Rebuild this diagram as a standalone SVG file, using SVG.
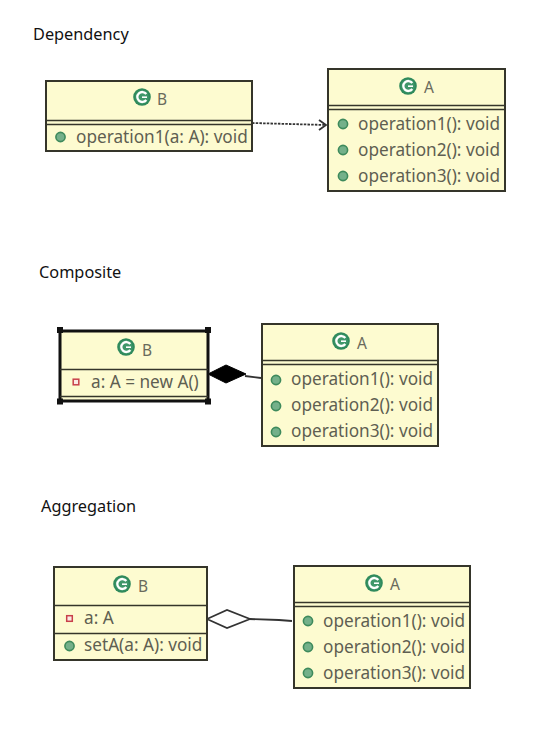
<svg xmlns="http://www.w3.org/2000/svg" width="546" height="732" viewBox="0 0 546 732">
<defs>
<style>
.box{fill:#fdfbd0;stroke:#35352a;stroke-width:2}
.sep{stroke:#35352a;stroke-width:1.7;fill:none}
.t{font-family:"Noto Sans","DejaVu Sans",sans-serif;font-size:17.2px;fill:#5f5f52}
.n{font-family:"Noto Sans","DejaVu Sans",sans-serif;font-size:15.500px;fill:#6a6a5c}
.cap{font-family:"Noto Sans","Liberation Sans",sans-serif;font-size:16.300px;fill:#111}
.pub{fill:#74b08a;stroke:#3e8a5c;stroke-width:1.6}
.priv{fill:#fbe9e4;stroke:#c8404a;stroke-width:1.5}
.line{fill:none;stroke:#333;stroke-width:1.8}
.h{fill:#111}
</style>
<g id="cls">
<circle cx="0" cy="0" r="8.800" fill="#2f8a5c"/>
<circle cx="0" cy="0" r="6.800" fill="#5fae85" opacity="0.350"/>
<path d="M4.300 -3 A5 5 0 1 0 4.300 3" fill="none" stroke="#fff" stroke-width="2.300"/>
<path d="M0 0.200H5" fill="none" stroke="#fff" stroke-width="1.600"/>
</g>
<circle id="pub" class="pub" r="4.600"/>
<rect id="priv" class="priv" x="-2.800" y="-2.800" width="5.600" height="5.600"/>
</defs>

<text class="cap" x="33" y="40">Dependency</text>
<text class="cap" x="39" y="278">Composite</text>
<text class="cap" x="41" y="512">Aggregation</text>

<g id="connectors">
<path d="M252 123 L326 125" class="line" stroke-dasharray="2.500 1.200"/>
<path d="M319 120 L326 125 L319 130" class="line"/>
<path d="M208 374 L226 365 L246 374 L226 383 Z" fill="#000" stroke="#000"/>
<path d="M245 376 L261 378" class="line"/>
<path d="M207 619 L227 610 L250 619 L227 628 Z" fill="#fff" stroke="#333" stroke-width="1.700"/>
<path d="M249 619 L279 620 L292 621" class="line"/>
</g>

<g id="dep-b">
<rect class="box" x="46" y="81" width="206" height="70"/>
<path class="sep" d="M46 120.500H252M46 124.500H252"/>
<use href="#cls" x="142" y="97"/>
<text class="n" x="157" y="105">B</text>
<use href="#pub" x="60.500" y="137"/>
<text class="t" x="76" y="142.500">operation1(a: A): void</text>
</g>

<g id="dep-a">
<rect class="box" x="328" y="69" width="177" height="122"/>
<path class="sep" d="M328 105.500H505M328 109.500H505"/>
<use href="#cls" x="408" y="86"/>
<text class="n" x="424" y="93">A</text>
<use href="#pub" x="343" y="124"/>
<use href="#pub" x="343" y="150"/>
<use href="#pub" x="343" y="176"/>
<text class="t" x="358" y="129.500">operation1(): void</text>
<text class="t" x="358" y="155.500">operation2(): void</text>
<text class="t" x="358" y="181.500">operation3(): void</text>
</g>

<g id="comp-b">
<rect class="box" x="60" y="331" width="148" height="70" style="fill:#fdfbd0"/>
<path d="M60 331H208V401H60Z" fill="none" stroke="#111" stroke-width="3"/>
<path class="sep" d="M60 369.500H208"/>
<path class="sep" d="M60 396.500H208"/>
<rect class="h" x="57" y="327" width="6" height="6"/>
<rect class="h" x="205" y="327" width="6" height="6"/>
<rect class="h" x="57" y="398.500" width="6" height="6"/>
<rect class="h" x="205" y="398.500" width="6" height="6"/>
<use href="#cls" x="126" y="347"/>
<text class="n" x="142" y="356">B</text>
<use href="#priv" x="76" y="382"/>
<text class="t" x="91" y="387.500">a: A = new A()</text>
</g>

<g id="comp-a">
<rect class="box" x="262" y="324" width="176" height="122"/>
<path class="sep" d="M262 360.500H438M262 364.500H438"/>
<use href="#cls" x="341" y="341"/>
<text class="n" x="357" y="349">A</text>
<use href="#pub" x="276" y="380"/>
<use href="#pub" x="276" y="406"/>
<use href="#pub" x="276" y="432"/>
<text class="t" x="291" y="385">operation1(): void</text>
<text class="t" x="291" y="411">operation2(): void</text>
<text class="t" x="291" y="437">operation3(): void</text>
</g>

<g id="agg-b">
<rect class="box" x="54" y="567" width="153" height="93"/>
<path class="sep" d="M54 605.500H207M54 633.500H207"/>
<use href="#cls" x="122" y="584"/>
<text class="n" x="138" y="592">B</text>
<use href="#priv" x="69.500" y="618.500"/>
<text class="t" x="84" y="624">a: A</text>
<use href="#pub" x="69.500" y="646"/>
<text class="t" x="84" y="651">setA(a: A): void</text>
</g>

<g id="agg-a">
<rect class="box" x="294" y="566" width="176" height="122"/>
<path class="sep" d="M294 602.500H470M294 606.500H470"/>
<use href="#cls" x="374" y="583"/>
<text class="n" x="390" y="590">A</text>
<use href="#pub" x="308" y="621"/>
<use href="#pub" x="308" y="647"/>
<use href="#pub" x="308" y="673"/>
<text class="t" x="323" y="626.500">operation1(): void</text>
<text class="t" x="323" y="652.500">operation2(): void</text>
<text class="t" x="323" y="678.500">operation3(): void</text>
</g>
</svg>
